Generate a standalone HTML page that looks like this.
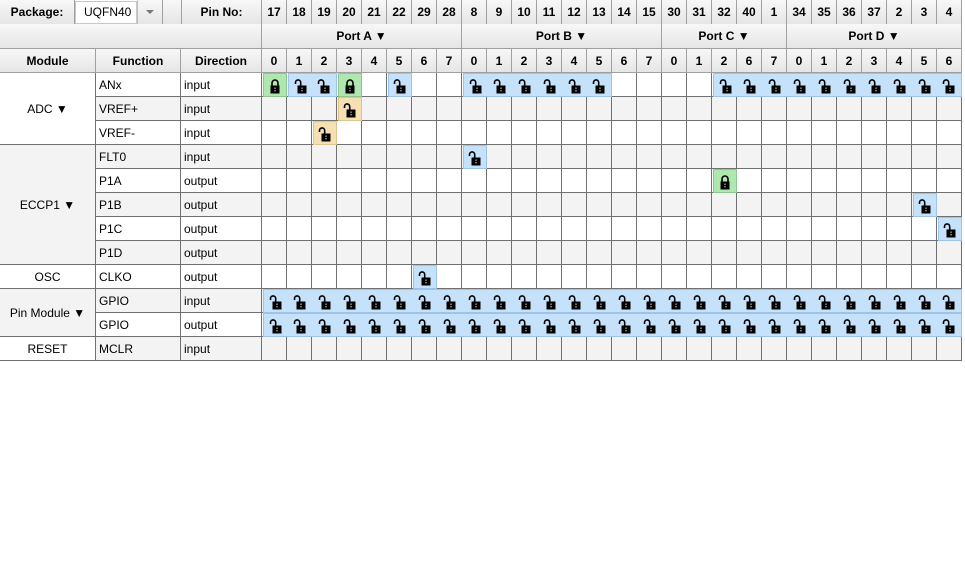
<!DOCTYPE html>
<html><head><meta charset="utf-8"><style>
body{margin:0;width:965px;height:584px;background:#fff;overflow:hidden;font-family:"Segoe UI","Liberation Sans",sans-serif;font-size:12px;color:#000;position:relative}
.a{position:absolute;box-sizing:border-box}
.hd{background:linear-gradient(#f7f7f7,#e6e6e6);font-weight:bold;text-align:center;line-height:24px;border-right:1px solid #a0a0a0;border-bottom:1px solid #a0a0a0}
.t{line-height:24px;padding-left:3px;white-space:nowrap}
.c{text-align:center;line-height:24px}
</style></head><body>
<div id="root"></div>
<script>
const pinNos=[17,18,19,20,21,22,29,28,8,9,10,11,12,13,14,15,30,31,32,40,1,34,35,36,37,2,3,4];
const bits=['0','1','2','3','4','5','6','7','0','1','2','3','4','5','6','7','0','1','2','6','7','0','1','2','3','4','5','6'];
const ports=[['Port A',8],['Port B',8],['Port C',5],['Port D',7]];
const modules=[['ADC ▼',3],['ECCP1 ▼',5],['OSC',1],['Pin Module ▼',2],['RESET',1]];
const funcs=['ANx','VREF+','VREF-','FLT0','P1A','P1B','P1C','P1D','CLKO','GPIO','GPIO','MCLR'];
const dirs=['input','input','input','input','output','output','output','output','output','input','output','input'];
// cell states: g=locked green, b=blue open, o=orange open
const states=[
 'gbbg.b..'+'bbbbbb..'+'..bbb'+'bbbbbbb',
 '...o........................',
 '..o.........................',
 '........b...................',
 '..................g.........',
 '..........................b.',
 '...........................b',
 '............................',
 '......b.....................',
 'bbbbbbbbbbbbbbbbbbbbbbbbbbbb',
 'bbbbbbbbbbbbbbbbbbbbbbbbbbbb',
 '............................'];
const root=document.getElementById('root');
const X0=262,CW=25,Y0=73,RH=24;
function el(cls,x,y,w,h,txt,name,inter,style){const d=document.createElement('div');d.className='a '+cls;d.style.left=x+'px';d.style.top=y+'px';d.style.width=w+'px';d.style.height=h+'px';if(style)d.style.cssText+=style;if(txt!=null)d.textContent=txt;


root.appendChild(d);return d;}
el('hd',0,0,75,25,'Package:','package-label',false);
el('',75,1,62,23,'UQFN40','package-combobox',true,'background:#fff;border:1px solid #c8c8c8;line-height:21px;padding-left:8px;');
el('hd',137,0,26,25,'','package-dropdown-button',true,'border-left:1px solid #c0c0c0');
el('',146,10,0,0,'','dropdown-arrow',false,'border-left:4px solid transparent;border-right:4px solid transparent;border-top:4px solid #777;width:0;height:0');
el('hd',163,0,19,25,'','spacer',false);
el('hd',182,0,80,25,'Pin No:','pin-no-label',false);
pinNos.forEach((p,i)=>el('hd',X0+i*CW,0,CW,25,String(p),'pin-number-'+p,false));
el('hd',0,24,262,25,'','port-header-blank',false);
let px=X0;ports.forEach(([n,c])=>{el('hd',px,24,c*CW,25,n+' ▼','port-header-'+n.slice(-1).toLowerCase(),true);px+=c*CW;});
el('hd',0,49,96,24,'Module','module-header',false);
el('hd',96,49,85,24,'Function','function-header',false);
el('hd',181,49,81,24,'Direction','direction-header',false);
bits.forEach((b,i)=>el('hd',X0+i*CW,49,CW,24,b,'bit-header-'+i,false));
funcs.forEach((f,r)=>{const y=Y0+r*RH;const bg=r%2?'#f3f3f3':'#fff';
 el('t',96,y,85,RH,f,'function-'+f.toLowerCase(),false,'background:'+bg+';border-right:1px solid #707070;border-bottom:1px solid #707070');
 el('t',181,y,81,RH,dirs[r],'direction-'+r,false,'background:'+bg+';border-right:1px solid #707070;border-bottom:1px solid #707070');
 for(let c=0;c<28;c++){el('',X0+c*CW,y,CW,RH,null,'pin-cell',true,'background:'+bg+';border-right:1px solid #707070;border-bottom:1px solid #707070');}
});
let my=Y0,mi=0;modules.forEach(([n,c])=>{el('c',0,my,96,c*RH,n,'module-'+n.split(' ')[0].toLowerCase(),n.includes('▼'),'background:'+(mi%2?'#f3f3f3':'#fff')+';border-right:1px solid #707070;border-bottom:1px solid #707070;line-height:'+(c*RH)+'px');my+=c*RH;mi++;});
const fills={g:'#b0e6b0',b:'#c6e2fb',o:'#f7dfb4'};const bords={g:'#8cc88c',b:'#9cc4ea',o:'#e0c490'};
function lock(closed){return closed?
'<svg width="12" height="16" viewBox="0 0 12 16"><path d="M3 8V5a3 3 0 0 1 6 0v3" fill="none" stroke="#000" stroke-width="1.6"/><rect x="1.5" y="7.5" width="9" height="8" fill="#000"/><rect x="5.3" y="9.5" width="1.4" height="1.4" fill="#aaa"/><rect x="5.3" y="12" width="1.4" height="1.4" fill="#aaa"/></svg>':
'<svg width="14" height="16" viewBox="0 0 14 16"><path d="M1.5 6V4.5a2.6 2.6 0 0 1 5.2 0V8" fill="none" stroke="#000" stroke-width="1.6"/><rect x="3.5" y="7.5" width="9" height="8" fill="#000"/><rect x="7.3" y="9.5" width="1.4" height="1.4" fill="#aaa"/><rect x="7.3" y="12" width="1.4" height="1.4" fill="#aaa"/></svg>';}
states.forEach((s,r)=>{for(let c=0;c<28;c++){const t=s[c];if(!t||t==='.')continue;
 const left=s[c-1]===t,right=s[c+1]===t;
 const d=el('',X0+c*CW+(left?0:1),Y0+r*RH,CW-(left?0:1)+(right?1:0),RH,null,'lock-cell-'+funcs[r].toLowerCase()+'-'+c,true,
 'background:'+fills[t]+';border-top:1px solid '+bords[t]+';border-bottom:1px solid '+bords[t]+';'+(left?'':'border-left:1px solid '+bords[t]+';')+(right?'':'border-right:1px solid '+bords[t]+';')+'display:flex;align-items:center;justify-content:center;padding-top:2px');
 d.innerHTML=lock(t==='g');}});
</script>
</body></html>
